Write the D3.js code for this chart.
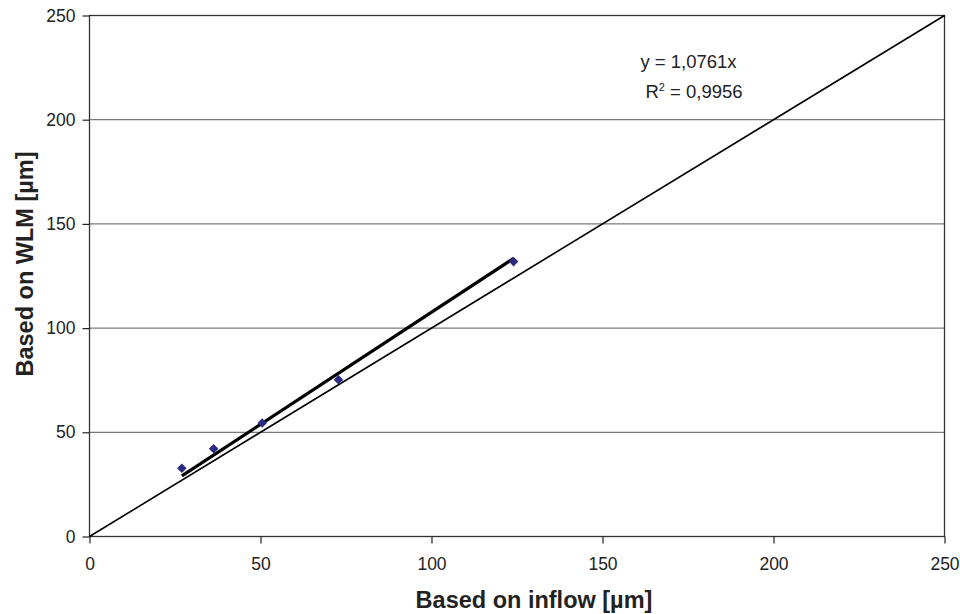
<!DOCTYPE html>
<html>
<head>
<meta charset="utf-8">
<script src="https://cdn.jsdelivr.net/npm/d3@7"></script>
<style>
  body { margin: 0; background: #fff; }
  text { font-family: "Liberation Sans", Arial, sans-serif; fill: #222; }
</style>
</head>
<body>
<svg id="chart" width="960" height="614"></svg>
<script>
// data
const inflow = [27.0, 36.3, 50.5, 72.8, 124.0];
const wlm = [32.8, 42.1, 54.5, 75.2, 131.9];
const slope = 1.0761;
const xTicks = [0, 50, 100, 150, 200, 250];
const yTicks = [0, 50, 100, 150, 200, 250];
const eqLines = ["y = 1,0761x", "R\u00b2 = 0,9956"];

const svg = d3.select("#chart");
const plotL = 89.5, plotR = 944.5, plotT = 15.5, plotB = 536.5;

const x = d3.scaleLinear().domain([0, 250]).range([plotL, plotR]);
const y = d3.scaleLinear().domain([0, 250]).range([plotB, plotT]);

// gridlines
svg.append("g")
  .selectAll("line")
  .data(yTicks.filter((d) => d > 0 && d < 250))
  .enter()
  .append("line")
  .attr("x1", plotL)
  .attr("x2", plotR)
  .attr("y1", (d) => y(d))
  .attr("y2", (d) => y(d))
  .attr("stroke", "#7a7a7a")
  .attr("stroke-width", 1.2);

// frame
svg.append("rect")
  .attr("x", plotL)
  .attr("y", plotT)
  .attr("width", plotR - plotL)
  .attr("height", plotB - plotT)
  .attr("fill", "none")
  .attr("stroke", "#333")
  .attr("stroke-width", 1.3);

// axes
const xAxis = d3.axisBottom(x).tickValues(xTicks).tickSize(7).tickPadding(14);
const gx = svg.append("g").attr("transform", `translate(0,${plotB})`).call(xAxis);
gx.select(".domain").remove();
gx.selectAll("line").attr("stroke", "#222").attr("stroke-width", 1.2);
gx.selectAll("text").attr("font-size", 17.5).attr("fill", "#222")
  .style("font-family", "Liberation Sans, Arial, sans-serif");

const yAxis = d3.axisLeft(y).tickValues(yTicks).tickSize(7).tickPadding(7);
const gy = svg.append("g").attr("transform", `translate(${plotL},0)`).call(yAxis);
gy.select(".domain").remove();
gy.selectAll("line").attr("stroke", "#222").attr("stroke-width", 1.2);
gy.selectAll("text").attr("font-size", 17.5).attr("fill", "#222")
  .style("font-family", "Liberation Sans, Arial, sans-serif");

// y = x reference line
svg.append("line")
  .attr("x1", x(0)).attr("y1", y(0))
  .attr("x2", x(250)).attr("y2", y(250))
  .attr("stroke", "#000")
  .attr("stroke-width", 1.6);

// trendline through origin
const xMin = d3.min(inflow), xMax = d3.max(inflow);
svg.append("line")
  .attr("x1", x(xMin)).attr("y1", y(xMin * slope))
  .attr("x2", x(xMax)).attr("y2", y(xMax * slope))
  .attr("stroke", "#000")
  .attr("stroke-width", 3.2);

// markers
svg.append("g")
  .selectAll("path")
  .data(inflow)
  .enter()
  .append("path")
  .attr("d", d3.symbol().type(d3.symbolDiamond2).size(58))
  .attr("transform", (d, i) => `translate(${x(d)},${y(wlm[i])})`)
  .attr("fill", "#2d2a82");

// equation
svg.append("text")
  .attr("x", 688.5).attr("y", 68)
  .attr("text-anchor", "middle")
  .attr("font-size", 18.5)
  .text(eqLines[0]);
const r2 = svg.append("text")
  .attr("x", 694).attr("y", 97.5)
  .attr("text-anchor", "middle")
  .attr("font-size", 18.5);
r2.append("tspan").text("R");
r2.append("tspan").attr("font-size", 11).attr("dy", -7).text("2");
r2.append("tspan").attr("dy", 7).text(" = 0,9956");

// axis titles
svg.append("text")
  .attr("x", 534).attr("y", 608)
  .attr("text-anchor", "middle")
  .attr("font-size", 23.5)
  .attr("font-weight", "bold")
  .text("Based on inflow [\u00b5m]");

svg.append("text")
  .attr("transform", "translate(33,264) rotate(-90)")
  .attr("text-anchor", "middle")
  .attr("font-size", 23.5)
  .attr("font-weight", "bold")
  .text("Based on WLM [\u00b5m]");
</script>
</body>
</html>
